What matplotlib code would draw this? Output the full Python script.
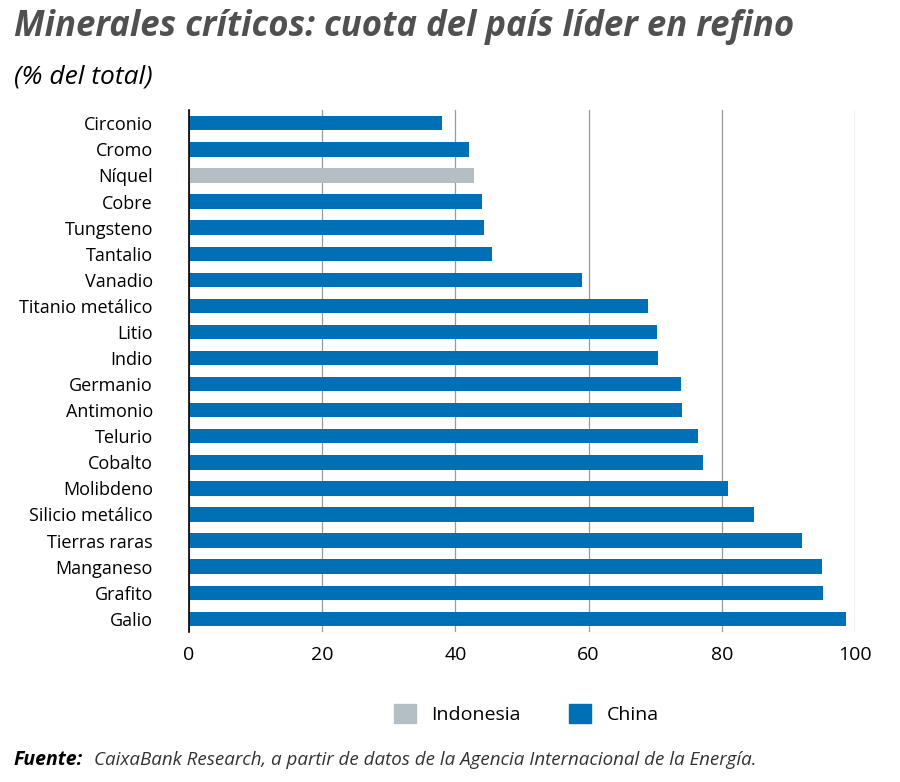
import matplotlib
matplotlib.use("Agg")
import matplotlib.pyplot as plt
from matplotlib.patches import Patch

plt.rcParams['font.family'] = ['Open Sans', 'DejaVu Sans']

minerals = ["Circonio","Cromo","Níquel","Cobre","Tungsteno","Tantalio","Vanadio","Titanio metálico",
            "Litio","Indio","Germanio","Antimonio","Telurio","Cobalto","Molibdeno","Silicio metálico",
            "Tierras raras","Manganeso","Grafito","Galio"]
values = [38.0,42.0,42.8,44.0,44.3,45.5,59.0,68.9,70.3,70.4,73.9,74.0,76.4,77.2,80.9,84.8,92.0,95.0,95.2,98.6]
leader = ["China","China","Indonesia"] + ["China"]*17
colors = {"Indonesia": "#b3bfc3", "China": "#0070b6"}

fig = plt.figure(figsize=(9, 7.82), dpi=100)
ax = fig.add_axes([0.21, 0.192, 0.74, 0.667])
y = list(range(len(minerals)))
ax.barh(y, values, height=0.55, color=[colors[l] for l in leader], zorder=3)
ax.set_yticks(y)
ax.set_yticklabels(minerals, fontsize=13)
ax.set_ylim(len(minerals)-0.5, -0.5)
ax.set_xlim(0, 100)
ax.set_xticks([0,20,40,60,80,100])
ax.tick_params(axis='x', labelsize=14, length=0, pad=10)
ax.tick_params(axis='y', length=0, pad=26)
ax.grid(axis='x', color='#999999', linewidth=0.9, zorder=0)
for s in ['top','right','bottom']:
    ax.spines[s].set_visible(False)
ax.spines['left'].set_color('black')
ax.spines['left'].set_linewidth(1.2)
ax.spines['left'].set_zorder(4)

fig.text(0.015, 0.965, "Minerales críticos: cuota del país líder en refino", fontsize=25,
         fontweight='bold', fontstyle='italic', color='#505050', va='center')
fig.text(0.015, 0.902, "(% del total)", fontsize=19, fontstyle='italic', color='black', va='center')

handles = [Patch(color=colors["Indonesia"], label="Indonesia"), Patch(color=colors["China"], label="China")]
fig.legend(handles=handles, loc='center', bbox_to_anchor=(0.585, 0.087), ncol=2, frameon=False,
           fontsize=14, handlelength=1.1, handleheight=1.1, columnspacing=2.5)

fig.text(0.015, 0.028, "Fuente:", fontsize=14, fontweight='bold', fontstyle='italic', color='black', va='center')
fig.text(0.105, 0.028, "CaixaBank Research, a partir de datos de la Agencia Internacional de la Energía.",
         fontsize=13.5, fontstyle='italic', color='#333333', va='center')

fig.savefig("out.png", dpi=100)
